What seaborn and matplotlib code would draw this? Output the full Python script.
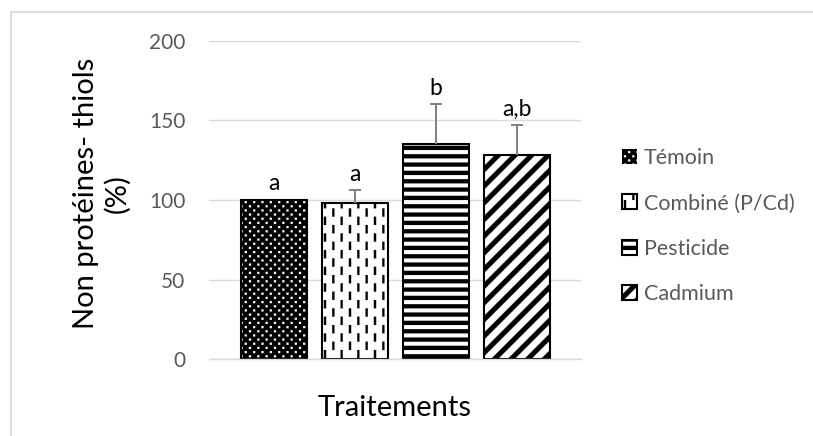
import warnings
import numpy as np
import pandas as pd
import matplotlib
matplotlib.use("Agg")
import matplotlib.pyplot as plt
from matplotlib import hatch as mhatch
from matplotlib.path import Path
from matplotlib.patches import Patch, Rectangle
import seaborn as sns

warnings.filterwarnings("ignore")

# ---- data -------------------------------------------------------------
treatments = ["Témoin", "Combiné (P/Cd)", "Pesticide", "Cadmium"]
thiols_pct = [100, 98, 135, 128]
error_plus = [0, 8, 25, 19]
letters = ["a", "a", "b", "a,b"]
y_ticks = [0, 50, 100, 150, 200]
group_label = "Traitements"
y_label = "Non protéines- thiols\n(%)"


# ---- fill patterns (one tile = 1 x 1 hatch unit) ----------------------
class _TileHatch(mhatch.HatchPatternBase):
    symbol = "?"

    def __init__(self, hatch, density):
        polys = self.polygons() if self.symbol in hatch else []
        verts, codes = [], []
        for poly in polys:
            verts.extend(poly)
            verts.append(poly[0])
            codes.extend([Path.MOVETO] + [Path.LINETO] * (len(poly) - 1)
                         + [Path.CLOSEPOLY])
        self._verts = np.array(verts, float).reshape(-1, 2)
        self._codes = np.array(codes, dtype=Path.code_type)
        self.num_vertices = len(self._verts)

    def set_vertices_and_codes(self, vertices, codes):
        vertices[:] = self._verts
        codes[:] = self._codes

    @staticmethod
    def _box(x0, y0, w, h):
        return [(x0, y0), (x0 + w, y0), (x0 + w, y0 + h), (x0, y0 + h)]


class DotGrid(_TileHatch):
    """staggered small square dots"""
    symbol = "k"

    def polygons(self):
        s = 0.021
        out = []
        for r in range(24):
            for c in range(14):
                x = (c + 0.5 * (r % 2)) / 12
                y = (r + 0.5) / 24
                out.append(self._box(x - s / 2, y - s / 2, s, s))
        return out


class DashVert(_TileHatch):
    """staggered vertical dashes"""
    symbol = "v"

    def polygons(self):
        w, h = 0.022, 1 / 12
        out = []
        for c in range(13):
            x = c / 12
            for k in range(-1, 7):
                y = k / 6 + (c % 2) / 12
                out.append(self._box(x - w / 2, y, w, h))
        return out


class WideHorz(_TileHatch):
    """wide horizontal bands"""
    symbol = "h"

    def polygons(self):
        t = 0.5 / 12
        return [self._box(-0.1, k / 12, 1.2, t) for k in range(-1, 13)]


class WideUpDiag(_TileHatch):
    """wide upward diagonal bands"""
    symbol = "u"

    def polygons(self):
        t = 0.42 / 6
        out = []
        for k in range(-8, 9):
            c = k / 6
            out.append([(-1, -1 - c), (2, 2 - c), (2 + t, 2 - c), (-1 + t, -1 - c)])
        return out


mhatch._hatch_types.extend([DotGrid, DashVert, WideHorz, WideUpDiag])

patterns = ["k", "v", "h", "u"]

# ---- style ------------------------------------------------------------
sns.set_style("white")
plt.rcParams["font.family"] = ["Lato", "DejaVu Sans"]
plt.rcParams["hatch.linewidth"] = 0.1

grid_c = "#d9d9d9"
text_c = "#595959"

fig = plt.figure(figsize=(8.13, 4.36), dpi=100)
ax = fig.add_axes([0.2571, 0.1759, 0.4576, 0.7307])

df = pd.DataFrame({
    "groupe": [group_label] * len(treatments),
    "traitement": treatments,
    "valeur": thiols_pct,
})

sns.barplot(data=df, x="groupe", y="valeur", hue="traitement",
            hue_order=treatments, palette=["black", "white", "white", "white"],
            width=0.871, gap=0.185, edgecolor="black", linewidth=1.5,
            errorbar=None, legend=False, ax=ax, zorder=2)
ax.set_xlim(-0.5, 0.5)

centers = []
for cont, pat in zip(ax.containers, patterns):
    bar = cont.patches[0]
    centers.append(bar.get_x() + bar.get_width() / 2)
    bar.set_hatch(pat)
    if pat == "k":
        bar.set_edgecolor("white")
        bar.set_linewidth(0)
        ax.add_patch(Rectangle(bar.get_xy(), bar.get_width(), bar.get_height(),
                               fill=False, edgecolor="black", linewidth=1.5,
                               zorder=2.1))

centers = np.array(centers)
vals = np.array(thiols_pct, float)
errs = np.array(error_plus, float)
has_err = errs > 0

eb = ax.errorbar(centers[has_err], vals[has_err],
                 yerr=[np.zeros(has_err.sum()), errs[has_err]],
                 fmt="none", ecolor="#7f7f7f", elinewidth=1.4,
                 capsize=4.3, capthick=1.4, zorder=3)
for cap in eb.lines[1]:
    if np.allclose(cap.get_ydata(), vals[has_err]):
        cap.remove()

for x, v, e, lab in zip(centers, vals, errs, letters):
    ax.annotate(lab, (x, v + e), xytext=(0, 4), textcoords="offset points",
                ha="center", va="bottom", fontsize=16.5, color="black")

ax.set_ylim(0, 200)
ax.set_yticks(y_ticks)
ax.set_xticks([])
ax.set_axisbelow(True)
ax.yaxis.grid(True, color=grid_c, linewidth=1.0)
ax.tick_params(axis="y", length=0, pad=17, labelsize=15, labelcolor=text_c)
for side in ["left", "right", "top"]:
    ax.spines[side].set_visible(False)
ax.spines["bottom"].set_color(grid_c)
ax.spines["bottom"].set_linewidth(1.0)

ax.set_xlabel(group_label, fontsize=21, color="black", labelpad=26)
ax.set_ylabel(y_label, fontsize=21, color="black", linespacing=1.2,
              ha="center", va="center")
ax.yaxis.set_label_coords(-0.2876, 0.52)

handles = []
for i, pat in enumerate(patterns):
    if pat == "k":
        handles.append(Patch(facecolor="black", edgecolor="white",
                             linewidth=0, hatch=pat))
    else:
        handles.append(Patch(facecolor="white", edgecolor="black",
                             linewidth=1.5, hatch=pat))

fig.legend(handles, treatments, loc="upper left",
           bbox_to_anchor=(622 / 813, 1 - 148 / 436), frameon=False,
           fontsize=15.5, labelcolor=text_c, handlelength=0.7,
           handleheight=0.7, handletextpad=0.3, labelspacing=1.18,
           borderpad=0, borderaxespad=0)

# outer chart frame
fig.patches.append(Rectangle((11 / 813, -0.2), 1.5, 1.2 - 12 / 436,
                             transform=fig.transFigure, fill=False,
                             edgecolor=grid_c, linewidth=1.3, zorder=0))

fig.savefig("out.png", dpi=100)
